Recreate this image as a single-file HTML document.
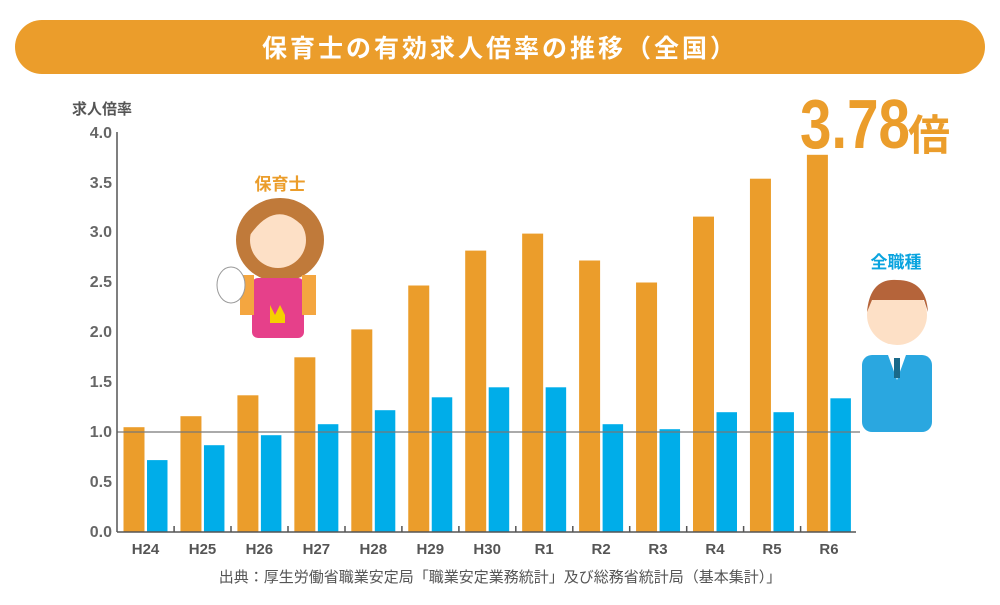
<!DOCTYPE html>
<html><head><meta charset="utf-8"><style>
body{margin:0;background:#fff}
svg text{font-family:"Liberation Sans","Noto Sans CJK JP",sans-serif}
</style></head><body>
<svg width="1000" height="600" viewBox="0 0 1000 600" xmlns="http://www.w3.org/2000/svg">
<rect x="15" y="20" width="970" height="54" rx="27" fill="#eb9d2b"/>
<text x="500" y="57" text-anchor="middle" font-size="25" font-weight="bold" fill="#fff" letter-spacing="3">保育士の有効求人倍率の推移（全国）</text>
<text x="72" y="114" font-size="15" font-weight="bold" fill="#555">求人倍率</text>
<g font-size="16" font-weight="bold" fill="#666" text-anchor="end">
<text x="112" y="537">0.0</text><text x="112" y="487">0.5</text><text x="112" y="437">1.0</text><text x="112" y="387">1.5</text><text x="112" y="337">2.0</text><text x="112" y="287">2.5</text><text x="112" y="237">3.0</text><text x="112" y="188">3.5</text><text x="112" y="138">4.0</text>
</g>
<g fill="#eb9d2b">
<rect x="123.5" y="427.2" width="21" height="104.8"/>
<rect x="180.45" y="416.2" width="21" height="115.8"/>
<rect x="237.4" y="395.3" width="21" height="136.7"/>
<rect x="294.35" y="357.3" width="21" height="174.7"/>
<rect x="351.3" y="329.4" width="21" height="202.6"/>
<rect x="408.25" y="285.5" width="21" height="246.5"/>
<rect x="465.2" y="250.6" width="21" height="281.4"/>
<rect x="522.15" y="233.6" width="21" height="298.4"/>
<rect x="579.1" y="260.5" width="21" height="271.5"/>
<rect x="636.05" y="282.5" width="21" height="249.5"/>
<rect x="693" y="216.6" width="21" height="315.4"/>
<rect x="749.95" y="178.7" width="21" height="353.3"/>
<rect x="806.9" y="154.8" width="21" height="377.2"/>
</g>
<g fill="#00ade9">
<rect x="147" y="460.1" width="20.5" height="71.9"/>
<rect x="203.95" y="445.2" width="20.5" height="86.8"/>
<rect x="260.9" y="435.2" width="20.5" height="96.8"/>
<rect x="317.85" y="424.2" width="20.5" height="107.8"/>
<rect x="374.8" y="410.2" width="20.5" height="121.8"/>
<rect x="431.75" y="397.3" width="20.5" height="134.7"/>
<rect x="488.7" y="387.3" width="20.5" height="144.7"/>
<rect x="545.65" y="387.3" width="20.5" height="144.7"/>
<rect x="602.6" y="424.2" width="20.5" height="107.8"/>
<rect x="659.55" y="429.2" width="20.5" height="102.8"/>
<rect x="716.5" y="412.2" width="20.5" height="119.8"/>
<rect x="773.45" y="412.2" width="20.5" height="119.8"/>
<rect x="830.4" y="398.3" width="20.5" height="133.7"/>
</g>
<line x1="117" y1="432" x2="860" y2="432" stroke="#777" stroke-width="1.2"/>
<line x1="117" y1="132" x2="117" y2="532" stroke="#555" stroke-width="1.5"/>
<line x1="117" y1="532" x2="856" y2="532" stroke="#555" stroke-width="1.5"/>
<g stroke="#555" stroke-width="1.5">
<line x1="174.1" y1="526" x2="174.1" y2="532"/><line x1="231" y1="526" x2="231" y2="532"/><line x1="288" y1="526" x2="288" y2="532"/><line x1="345" y1="526" x2="345" y2="532"/><line x1="401.9" y1="526" x2="401.9" y2="532"/><line x1="458.9" y1="526" x2="458.9" y2="532"/><line x1="515.8" y1="526" x2="515.8" y2="532"/><line x1="572.8" y1="526" x2="572.8" y2="532"/><line x1="629.7" y1="526" x2="629.7" y2="532"/><line x1="686.7" y1="526" x2="686.7" y2="532"/><line x1="743.6" y1="526" x2="743.6" y2="532"/><line x1="800.6" y1="526" x2="800.6" y2="532"/>
</g>
<g font-size="15" font-weight="bold" fill="#555" text-anchor="middle">
<text x="145.5" y="554">H24</text><text x="202.5" y="554">H25</text><text x="259.4" y="554">H26</text><text x="316.4" y="554">H27</text><text x="373.3" y="554">H28</text><text x="430.3" y="554">H29</text><text x="487.2" y="554">H30</text><text x="544.2" y="554">R1</text><text x="601.1" y="554">R2</text><text x="658" y="554">R3</text><text x="715" y="554">R4</text><text x="772" y="554">R5</text><text x="829" y="554">R6</text>
</g>
<text x="800" y="148" font-size="70" font-weight="bold" fill="#eb9d2b" textLength="110" lengthAdjust="spacingAndGlyphs">3.78</text>
<text x="908" y="150" font-size="42" font-weight="bold" fill="#eb9d2b">倍</text>
<text x="280" y="190" text-anchor="middle" font-size="17" font-weight="bold" fill="#eb9d2b">保育士</text>
<text x="896" y="268" text-anchor="middle" font-size="17" font-weight="bold" fill="#0aa4df">全職種</text>
<ellipse cx="280" cy="240" rx="44" ry="42" fill="#c07a3a"/>
<rect x="252" y="278" width="52" height="60" rx="6" fill="#e6408a"/>
<rect x="240" y="275" width="14" height="40" fill="#f4a640"/>
<rect x="302" y="275" width="14" height="40" fill="#f4a640"/>
<circle cx="278" cy="240" r="28" fill="#fde0c6"/>
<path d="M250 235 Q278 195 308 232 L308 215 Q278 190 250 215Z" fill="#c07a3a"/>
<ellipse cx="231" cy="285" rx="14" ry="18" fill="#fff" stroke="#999"/>
<path d="M270 305 l5 10 l5-10 l5 10 l0 8 h-15z" fill="#f5d000"/>
<rect x="862" y="355" width="70" height="77" rx="10" fill="#2aa7e0"/>
<polygon points="888,355 897,380 906,355" fill="#fff"/>
<rect x="894" y="358" width="6" height="20" fill="#1a6a8a"/>
<circle cx="897" cy="315" r="30" fill="#fde0c6"/>
<path d="M867 312 Q870 278 897 280 Q926 280 928 312 L924 300 Q900 300 872 300Z" fill="#b5643a"/>
<text x="500" y="582" text-anchor="middle" font-size="15" fill="#555">出典：厚生労働省職業安定局「職業安定業務統計」及び総務省統計局（基本集計）」</text>
</svg>
</body></html>
